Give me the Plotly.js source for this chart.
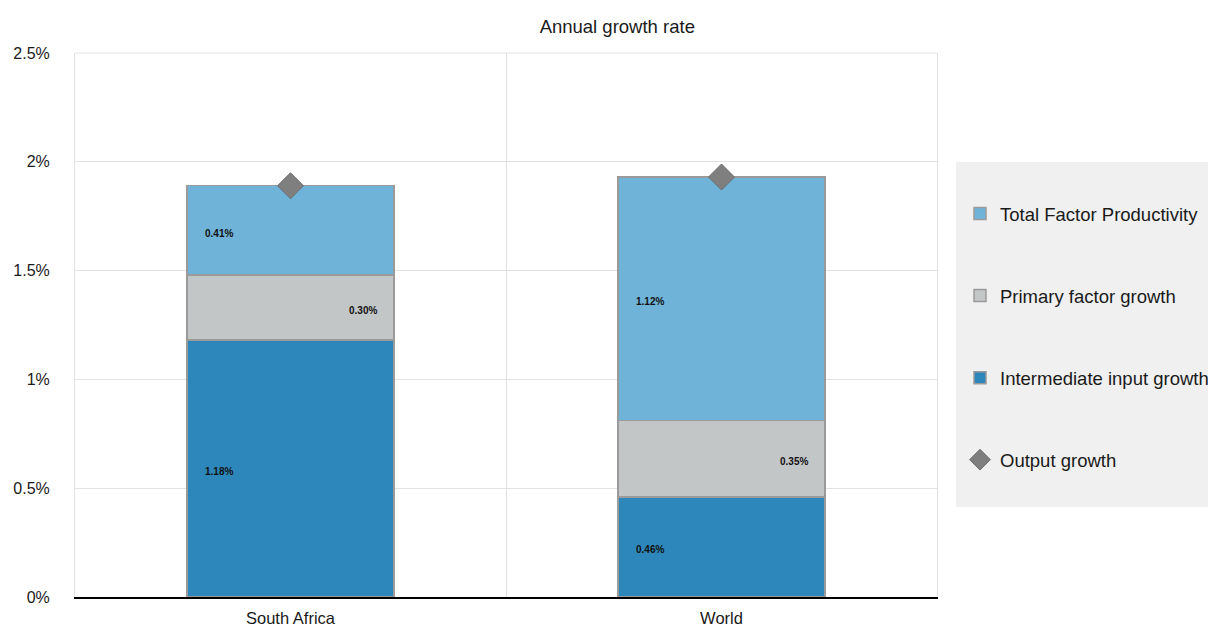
<!DOCTYPE html>
<html>
<head>
<meta charset="utf-8">
<script src="https://cdn.plot.ly/plotly-3.0.1.min.js"></script>
<style>
  html, body { margin: 0; padding: 0; background: #ffffff; }
  #chart { width: 1208px; height: 628px; }
</style>
</head>
<body>
<div id="chart"></div>
<script>
// Growth decomposition, percent per year
const regions = ['South Africa', 'World'];
const intermediateInput = [1.18, 0.46];
const primaryFactor = [0.30, 0.35];
const totalFactorProductivity = [0.41, 1.12];
const outputGrowth = [1.89, 1.93];

const yTickVals = [0, 0.5, 1, 1.5, 2, 2.5];
const yTickText = ['0%', '0.5%', '1%', '1.5%', '2%', '2.5%'];

const colors = {
  tfp: '#6fb3d8',
  primary: '#c3c6c7',
  intermediate: '#2d87ba',
  output: '#7f7f7f'
};

const gridColor = '#e2e2e2';
const barLine = { color: '#9a9a9a', width: 1.5 };

function barTrace(name, values, color, rank) {
  return {
    type: 'bar',
    name: name,
    x: regions,
    y: values,
    width: 0.48,
    marker: { color: color, line: barLine },
    legendgroup: name,
    legendrank: rank,
    hoverinfo: 'skip'
  };
}

const traces = [
  barTrace('Intermediate input growth', intermediateInput, colors.intermediate, 3),
  barTrace('Primary factor growth', primaryFactor, colors.primary, 2),
  barTrace('Total Factor Productivity', totalFactorProductivity, colors.tfp, 1),
  {
    type: 'scatter',
    mode: 'markers',
    name: 'Output growth',
    x: regions,
    y: outputGrowth,
    marker: { symbol: 'diamond', size: 20, color: colors.output, line: { color: '#6e6e6e', width: 1 } },
    legendgroup: 'Output growth',
    legendrank: 4,
    hoverinfo: 'skip'
  }
];

// Value labels placed at the middle of each stacked segment
const annotations = [];
const labelFont = { family: 'Liberation Sans, Arial, sans-serif', size: 10, color: '#111111', weight: 'bold' };
regions.forEach((r, i) => {
  const segs = [
    { v: intermediateInput[i], base: 0, shift: -72 },
    { v: primaryFactor[i], base: intermediateInput[i], shift: 72 },
    { v: totalFactorProductivity[i], base: intermediateInput[i] + primaryFactor[i], shift: -72 }
  ];
  segs.forEach(s => {
    annotations.push({
      x: r, y: s.base + s.v / 2, xref: 'x', yref: 'y',
      text: s.v.toFixed(2) + '%',
      showarrow: false, xshift: s.shift, yshift: -3,
      font: labelFont
    });
  });
});

// Page geometry (pixels) used to place the legend panel
const W = 1208, H = 628;
const M = { l: 75, r: 271, t: 53, b: 31 };
const plotW = W - M.l - M.r, plotH = H - M.t - M.b;
const px2x = px => (px - M.l) / plotW;
const py2y = py => (H - M.b - py) / plotH;

const shapes = [
  // top frame line of the plotting area
  { type: 'line', xref: 'paper', yref: 'paper', x0: 0, x1: 1, y0: 1, y1: 1,
    line: { color: gridColor, width: 1 } },
  // legend panel background
  { type: 'rect', xref: 'paper', yref: 'paper', layer: 'below',
    x0: px2x(956), x1: px2x(1230), y0: py2y(507), y1: py2y(162),
    fillcolor: '#f0f0f0', line: { width: 0 } }
];

const layout = {
  width: W,
  height: H,
  margin: { l: M.l, r: M.r, t: M.t, b: M.b, autoexpand: false },
  paper_bgcolor: '#ffffff',
  plot_bgcolor: '#ffffff',
  font: { family: 'Liberation Sans, Arial, sans-serif', color: '#1a1a1a' },
  title: {
    text: 'Annual growth rate',
    x: 0.511, xref: 'container', xanchor: 'center',
    y: 0.958, yref: 'container', yanchor: 'middle',
    font: { size: 18.5, color: '#1a1a1a' }
  },
  barmode: 'stack',
  showlegend: true,
  legend: {
    xref: 'container', yref: 'container',
    x: 960 / W, xanchor: 'left',
    y: 1 - 195 / H, yanchor: 'top',
    bgcolor: 'rgba(0,0,0,0)',
    borderwidth: 0,
    font: { size: 18.5, color: '#1a1a1a' },
    traceorder: 'grouped',
    tracegroupgap: 55,
    itemwidth: 30
  },
  xaxis: {
    type: 'category',
    tickson: 'boundaries',
    showgrid: true,
    gridcolor: gridColor,
    gridwidth: 1,
    ticks: '',
    showline: true,
    linecolor: '#000000',
    linewidth: 1.5,
    tickfont: { size: 16.5, color: '#1a1a1a' },
    ticklabelstandoff: 6,
    fixedrange: true
  },
  yaxis: {
    range: [0, 2.5],
    tickvals: yTickVals,
    ticktext: yTickText,
    showgrid: true,
    gridcolor: gridColor,
    gridwidth: 1,
    zeroline: false,
    showline: true,
    mirror: true,
    linecolor: gridColor,
    linewidth: 1,
    ticks: '',
    ticklabelstandoff: 21,
    tickfont: { size: 16, color: '#1a1a1a' },
    fixedrange: true
  },
  shapes: shapes,
  annotations: annotations
};

Plotly.newPlot('chart', traces, layout, { displayModeBar: false, staticPlot: true });
</script>
</body>
</html>
